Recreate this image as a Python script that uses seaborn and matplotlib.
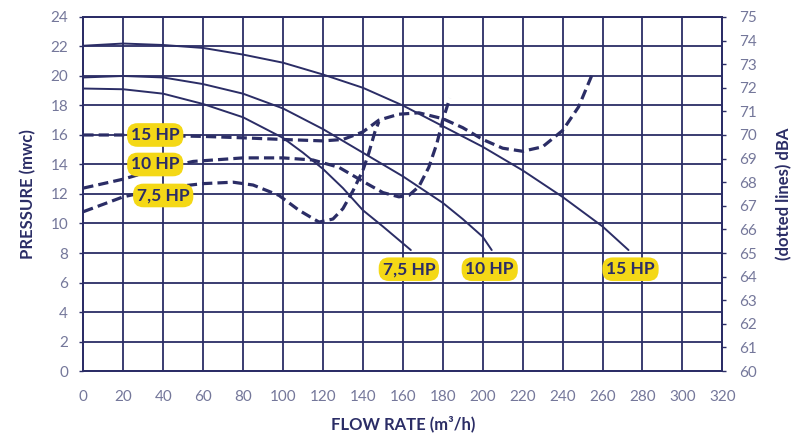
import matplotlib
matplotlib.use("Agg")
import matplotlib.pyplot as plt
import seaborn as sns

NAVY = "#2b2d66"
TICK = "#74779a"
YELLOW = "#f4d816"

# pressure curves (solid), flow m3/h -> mwc
flow_75 = [0, 20, 40, 60, 80, 100, 110, 120, 130, 140, 150, 164]
pres_75 = [19.15, 19.1, 18.8, 18.1, 17.2, 15.8, 14.8, 13.7, 12.4, 10.9, 9.8, 8.2]

flow_10 = [0, 20, 40, 60, 80, 100, 120, 140, 160, 180, 190, 200, 204.5]
pres_10 = [19.9, 20.0, 19.9, 19.45, 18.8, 17.8, 16.4, 14.8, 13.2, 11.4, 10.3, 9.1, 8.2]

flow_15 = [0, 20, 40, 60, 80, 100, 120, 140, 160, 180, 200, 220, 240, 260, 273]
pres_15 = [22.05, 22.2, 22.1, 21.9, 21.45, 20.9, 20.1, 19.2, 18.0, 16.6, 15.2, 13.6, 11.8, 9.8, 8.2]

# noise curves (dotted), flow m3/h -> dBA
nflow_75 = [0, 20, 40, 60, 75, 85, 98, 108, 118, 125, 130, 135, 140, 143, 146, 148]
dba_75 = [66.75, 67.38, 67.75, 67.94, 68.0, 67.88, 67.44, 66.81, 66.31, 66.44,
          66.88, 67.63, 68.5, 69.25, 70.13, 70.56]

nflow_10 = [0, 20, 35, 55, 80, 100, 115, 128, 142, 150, 158, 163, 168, 173, 177, 180, 183.5]
dba_10 = [67.75, 68.13, 68.5, 68.88, 69.03, 69.03, 68.94, 68.63, 67.94, 67.56,
          67.38, 67.44, 67.81, 68.63, 69.63, 70.63, 71.56]

nflow_15 = [0, 20, 40, 60, 80, 100, 120, 130, 140, 148, 158, 168, 180, 190, 200,
            210, 220, 230, 240, 248, 255]
dba_15 = [70.0, 70.0, 69.97, 69.94, 69.88, 69.81, 69.75, 69.81, 70.13, 70.63, 70.88,
          70.94, 70.69, 70.31, 69.81, 69.44, 69.31, 69.5, 70.19, 71.19, 72.6]

labels = ["7,5 HP", "10 HP", "15 HP"]
left_label_pos = [(40, 11.9), (36, 14.0), (36, 16.0)]
end_label_pos = [(163, 6.9), (203.5, 6.9), (274, 6.9)]

sns.set_style("white")
plt.rcParams["font.family"] = ["Lato", "DejaVu Sans"]

fig = plt.figure(figsize=(8.09, 4.41), dpi=100)
ax = fig.add_axes([0.1030, 0.1587, 0.7899, 0.8028])
ax2 = ax.twinx()

for fx, py in [(flow_75, pres_75), (flow_10, pres_10), (flow_15, pres_15)]:
    sns.lineplot(x=fx, y=py, ax=ax, color=NAVY, linewidth=1.4, estimator=None)

for fx, dy in [(nflow_75, dba_75), (nflow_10, dba_10), (nflow_15, dba_15)]:
    sns.lineplot(x=fx, y=dy, ax=ax2, color=NAVY, linewidth=2.3,
                 linestyle=(0, (3.2, 1.6)), estimator=None)

ax.set_xlim(0, 320)
ax.set_ylim(0, 24)
ax.set_xticks(range(0, 321, 20))
ax.set_yticks(range(0, 25, 2))
ax2.set_ylim(60, 75)
ax2.set_yticks(range(60, 76))

ax.grid(True, color=NAVY, linewidth=1.3)
ax.set_axisbelow(True)
for a in (ax, ax2):
    for s in a.spines.values():
        s.set_color(NAVY)
        s.set_linewidth(1.3)
ax.tick_params(axis="both", direction="out", length=3, width=1, color=NAVY,
               labelcolor=TICK, labelsize=11, pad=8)
ax.tick_params(axis="x", pad=11)
ax2.tick_params(axis="y", direction="out", length=3, width=1, color=NAVY,
                labelcolor=TICK, labelsize=11, pad=9)

ax.set_xlabel("FLOW RATE (m³/h)", fontsize=12, fontweight="bold", color=NAVY, labelpad=8)
ax.set_ylabel("PRESSURE (mwc)", fontsize=12, fontweight="bold", color=NAVY, labelpad=10)
ax2.set_ylabel("(dotted lines) dBA", fontsize=12, fontweight="bold", color=NAVY, labelpad=14)

box = dict(boxstyle="round,pad=0.22,rounding_size=0.6", facecolor=YELLOW, edgecolor="none")
for txt, (x, y) in zip(labels + labels, left_label_pos + end_label_pos):
    ax2.text(x, y, txt, ha="center", va="center", fontsize=12.5, color=NAVY,
             fontweight="bold", bbox=box, zorder=5, transform=ax.transData)

fig.savefig("out.png", dpi=100)
